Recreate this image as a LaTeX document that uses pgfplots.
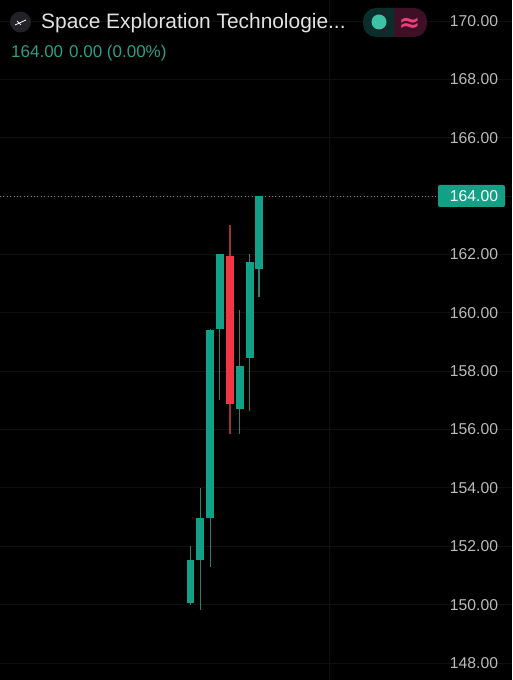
\documentclass[border=0pt]{standalone}
\usepackage{pgfplots}
\usepackage{pgfplotstable}
\usepackage{fontspec}
\pgfplotsset{compat=1.18}
\setmainfont{Liberation Sans}
\newfontfamily\symfont{DejaVu Sans}

\definecolor{upbody}{HTML}{12A186}
\definecolor{upwick}{HTML}{2A7F6E}
\definecolor{downbody}{HTML}{F23645}
\definecolor{downwick}{HTML}{9E2F3C}
\definecolor{gridc}{HTML}{101010}
\definecolor{ticktext}{HTML}{BABABA}
\definecolor{titletext}{HTML}{E2E2E2}
\definecolor{subtext}{HTML}{2F9E84}
\definecolor{pillgreen}{RGB}{10,46,44}
\definecolor{pillred}{RGB}{62,16,38}
\definecolor{pilldot}{RGB}{62,194,165}
\definecolor{pillpink}{RGB}{236,64,122}
\definecolor{iconbg}{HTML}{232327}

% x is the pixel column of the candle, y the price; nan breaks the line
\pgfplotstableread{
x y
190.5 150.0
190.5 152.0
nan nan
200.3 149.82
200.3 153.98
nan nan
210.3 151.29
210.3 159.45
nan nan
219.7 157.01
219.7 162.02
nan nan
239.7 155.85
239.7 160.10
nan nan
249.7 156.65
249.7 162.02
nan nan
259.0 160.54
259.0 164.00
}\upwicks

\pgfplotstableread{
x y
190.5 150.06
190.5 151.53
nan nan
200.3 151.53
200.3 152.96
nan nan
210.3 152.97
210.3 159.41
nan nan
219.7 159.45
219.7 162.02
nan nan
239.7 156.69
239.7 158.19
nan nan
249.7 158.46
249.7 161.75
nan nan
259.0 161.50
259.0 164.00
}\upbodies

\pgfplotstableread{
x y
230.0 155.85
230.0 163.01
}\downwicks

\pgfplotstableread{
x y
230.0 156.88
230.0 161.95
}\downbodies

\begin{document}
\begin{tikzpicture}
\useasboundingbox (0,0) rectangle (512pt,680pt);
\fill[black] (0,0) rectangle (512pt,680pt);
\begin{axis}[
  at={(0,0)}, anchor=south west,
  scale only axis,
  width=512pt, height=680pt,
  xmin=0, xmax=512,
  ymin=147.417, ymax=170.72,
  axis line style={draw=none},
  major tick length=0pt,
  xtick={329}, xticklabels={},
  ytick={148,150,...,170},
  grid=major,
  major grid style={gridc, line width=0.8pt},
  yticklabel pos=right,
  yticklabel style={
    anchor=center, xshift=-38pt, text=ticktext,
    font=\fontsize{15.7}{18}\selectfont,
    /pgf/number format/fixed,
    /pgf/number format/fixed zerofill,
    /pgf/number format/precision=2,
    /pgf/number format/1000 sep={},
    /pgf/number format/assume math mode=true,
  },
  unbounded coords=jump,
  clip=true,
]
\addplot[color=gray, line width=0.7pt, dash pattern=on 1pt off 2.4pt] coordinates {(0,164) (438,164)};
\addplot[upwick, line width=1.2pt] table {\upwicks};
\addplot[downwick, line width=1.2pt] table {\downwicks};
\addplot[upbody, line width=7.8pt] table {\upbodies};
\addplot[downbody, line width=7.8pt] table {\downbodies};
\end{axis}

% header and price tag, in pixel coordinates from the top left
\begin{scope}[shift={(0,680pt)}, x=1pt, y=-1pt]
  \fill[upbody, rounded corners=2pt] (438,185) rectangle (505,207);
  \node[text=white, font=\fontsize{15.7}{18}\selectfont] at (474,196.5) {164.00};

  \fill[iconbg] (20.5,22) circle (10.5);
  \draw[white, line width=0.8pt] (15,25) -- (26,20);
  \draw[white, line width=0.7pt] (17,21) -- (21,25);

  \node[anchor=west, inner sep=0pt, text=titletext, font=\fontsize{20.9}{24}\selectfont] at (41,23) {Space Exploration Technologie...};
  \node[anchor=west, inner sep=0pt, text=subtext, font=\fontsize{17}{20}\selectfont] at (11,53) {164.00\hspace{6pt}0.00 (0.00\%)};

  \fill[pillgreen, rounded corners=13pt] (363,8) rectangle (410,37);
  \fill[pillred, rounded corners=13pt] (380,8) rectangle (427,37);
  \fill[pillgreen] (385,8) rectangle (394,37);
  \fill[pilldot] (379,22) circle (7.5);
  \node[text=pillpink, font=\symfont\fontsize{26}{26}\selectfont\bfseries, inner sep=0pt] at (409.5,25) {≈};
\end{scope}
\end{tikzpicture}
\end{document}
